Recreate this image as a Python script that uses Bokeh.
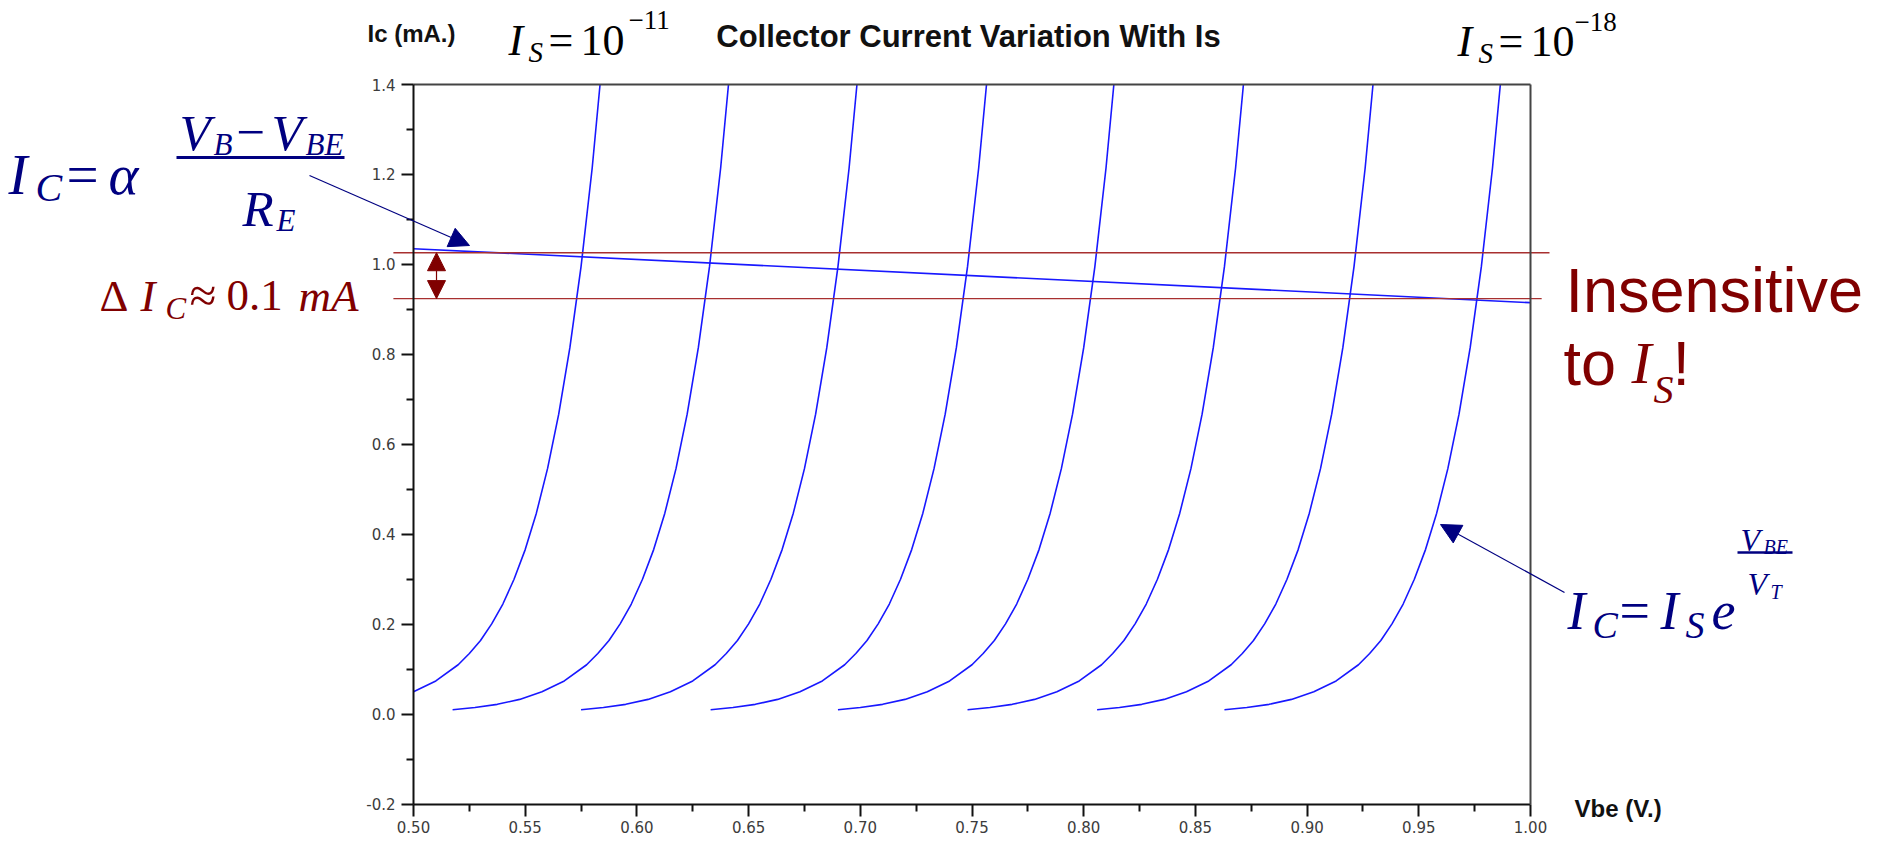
from bokeh.plotting import figure
from bokeh.models import (LinearAxis, FixedTicker, Range1d, Label, Arrow,
                          NormalHead, PrintfTickFormatter)
from bokeh.embed import file_html
from bokeh.resources import INLINE

# ---------------- data ----------------
vbe_ticks = [0.50, 0.55, 0.60, 0.65, 0.70, 0.75, 0.80, 0.85, 0.90, 0.95, 1.00]
vbe_minor = [0.525, 0.575, 0.625, 0.675, 0.725, 0.775, 0.825, 0.875, 0.925, 0.975]
ic_ticks = [-0.2, 0.0, 0.2, 0.4, 0.6, 0.8, 1.0, 1.2, 1.4]
ic_minor = [-0.1, 0.1, 0.3, 0.5, 0.7, 0.9, 1.1, 1.3]

# collector current along each exponential curve (mA)
ic_rise = [0.010, 0.015, 0.022, 0.033, 0.050, 0.074, 0.110, 0.135, 0.164, 0.201,
           0.245, 0.300, 0.366, 0.447, 0.546, 0.667, 0.815, 0.995, 1.215, 1.400]
ic_rise_is11 = [0.050, 0.074, 0.110, 0.135, 0.164, 0.201, 0.245, 0.300, 0.366, 0.447,
                0.546, 0.667, 0.815, 0.995, 1.215, 1.400]

# Vbe of each curve (V), Is = 1e-11 ... 1e-18
vbe_is11 = [0.500, 0.510, 0.520, 0.525, 0.530, 0.535, 0.540, 0.545, 0.550, 0.555,
            0.560, 0.565, 0.570, 0.575, 0.580, 0.5835]
vbe_is12 = [0.5175, 0.5275, 0.5375, 0.5475, 0.5575, 0.5675, 0.5775, 0.5825, 0.5875, 0.5925,
            0.5975, 0.6025, 0.6075, 0.6125, 0.6175, 0.6225, 0.6275, 0.6325, 0.6375, 0.641]
vbe_is13 = [0.575, 0.585, 0.595, 0.605, 0.615, 0.625, 0.635, 0.640, 0.645, 0.650,
            0.655, 0.660, 0.665, 0.670, 0.675, 0.680, 0.685, 0.690, 0.695, 0.6985]
vbe_is14 = [0.633, 0.643, 0.653, 0.663, 0.673, 0.683, 0.693, 0.698, 0.703, 0.708,
            0.713, 0.718, 0.723, 0.728, 0.733, 0.738, 0.743, 0.748, 0.753, 0.7565]
vbe_is15 = [0.690, 0.700, 0.710, 0.720, 0.730, 0.740, 0.750, 0.755, 0.760, 0.765,
            0.770, 0.775, 0.780, 0.785, 0.790, 0.795, 0.800, 0.805, 0.810, 0.8135]
vbe_is16 = [0.748, 0.758, 0.768, 0.778, 0.788, 0.798, 0.808, 0.813, 0.818, 0.823,
            0.828, 0.833, 0.838, 0.843, 0.848, 0.853, 0.858, 0.863, 0.868, 0.8715]
vbe_is17 = [0.806, 0.816, 0.826, 0.836, 0.846, 0.856, 0.866, 0.871, 0.876, 0.881,
            0.886, 0.891, 0.896, 0.901, 0.906, 0.911, 0.916, 0.921, 0.926, 0.9295]
vbe_is18 = [0.863, 0.873, 0.883, 0.893, 0.903, 0.913, 0.923, 0.928, 0.933, 0.938,
            0.943, 0.948, 0.953, 0.958, 0.963, 0.968, 0.973, 0.978, 0.983, 0.9865]

# emitter-degenerated (load) line
load_vbe = [0.50, 1.00]
load_ic = [1.035, 0.915]

# delta-Ic marker levels
delta_levels = [1.026, 0.924]
delta_vbe_left = [0.491, 0.491]
delta_vbe_right = [1.0085, 1.005]
delta_arrow_vbe = 0.5103

# ---------------- layout (page pixels -> data) ----------------
W, H = 1876, 839
PX0, SX = 421.0, 2234.0     # page x of Vbe = 0.5, px per volt
PY0, SY = 92.0, 449.81      # page y of Ic = 1.4, px per mA


def X(px):
    return 0.5 + (px - PX0) / SX


def Y(py):
    return 1.4 - (py - PY0) / SY


p = figure(width=W, height=H, output_backend="svg", toolbar_location=None,
           x_axis_type=None, y_axis_type=None, title=None,
           x_range=Range1d(X(8), X(8 + W)), y_range=Range1d(Y(8 + H), Y(8)),
           min_border=0, outline_line_color=None)
p.background_fill_color = "white"
p.border_fill_color = "white"

AX = "#111111"
TL = "#3c3c3c"

yax = LinearAxis(fixed_location=0.5, bounds=(-0.2, 1.4),
                 ticker=FixedTicker(ticks=ic_ticks, minor_ticks=ic_minor),
                 formatter=PrintfTickFormatter(format="%.1f"))
xax = LinearAxis(fixed_location=-0.2, bounds=(0.5, 1.0),
                 ticker=FixedTicker(ticks=vbe_ticks, minor_ticks=vbe_minor),
                 formatter=PrintfTickFormatter(format="%.2f"))
for ax in (yax, xax):
    ax.axis_line_color = AX
    ax.axis_line_width = 2
    ax.major_tick_line_color = AX
    ax.minor_tick_line_color = AX
    ax.major_tick_line_width = 2
    ax.minor_tick_line_width = 2
    ax.major_tick_in = 0
    ax.major_tick_out = 12
    ax.minor_tick_in = 0
    ax.minor_tick_out = 7
    ax.major_label_text_font = "DejaVu Sans"
    ax.major_label_text_font_size = "15px"
    ax.major_label_text_color = TL
yax.major_label_standoff = 6
xax.major_label_standoff = 5
p.add_layout(yax, "left")
p.add_layout(xax, "below")

top = LinearAxis(fixed_location=1.4, bounds=(0.5, 1.0), ticker=FixedTicker(ticks=[]),
                 major_label_text_font_size="0px")
right = LinearAxis(fixed_location=1.0, bounds=(-0.2, 1.4), ticker=FixedTicker(ticks=[]),
                   major_label_text_font_size="0px")
for ax in (top, right):
    ax.axis_line_color = "#444444"
    ax.axis_line_width = 2
    ax.major_tick_line_color = None
    ax.minor_tick_line_color = None
p.add_layout(top, "above")
p.add_layout(right, "right")

BLUE = "#1818ff"
curves = [(vbe_is11, ic_rise_is11), (vbe_is12, ic_rise), (vbe_is13, ic_rise),
          (vbe_is14, ic_rise), (vbe_is15, ic_rise), (vbe_is16, ic_rise),
          (vbe_is17, ic_rise), (vbe_is18, ic_rise)]
for xs, ys in curves:
    p.line(xs, ys, line_color=BLUE, line_width=1.6)

p.line(load_vbe, load_ic, line_color=BLUE, line_width=1.6)

RED_LINE = "#a83030"
p.segment(x0=delta_vbe_left, y0=delta_levels, x1=delta_vbe_right, y1=delta_levels,
          line_color=RED_LINE, line_width=1.4)

DRED = "#800000"
NAVY = "#000080"

p.add_layout(Arrow(x_start=delta_arrow_vbe, y_start=delta_levels[1],
                   x_end=delta_arrow_vbe, y_end=delta_levels[0],
                   start=NormalHead(size=18, fill_color=DRED, line_color=DRED),
                   end=NormalHead(size=18, fill_color=DRED, line_color=DRED),
                   line_color=DRED, line_width=1.2))

# pointer arrows
p.add_layout(Arrow(x_start=X(317), y_start=Y(183), x_end=X(477), y_end=Y(253),
                   end=NormalHead(size=20, fill_color=NAVY, line_color=NAVY),
                   line_color=NAVY, line_width=1.2))
p.add_layout(Arrow(x_start=X(1572), y_start=Y(600), x_end=X(1448), y_end=Y(532),
                   end=NormalHead(size=20, fill_color=NAVY, line_color=NAVY),
                   line_color=NAVY, line_width=1.2))


def lab(text, px, py, size, color="black", font="Liberation Serif", style="italic",
        align="left", baseline="alphabetic"):
    p.add_layout(Label(x=X(px), y=Y(py), text=text, text_font=font,
                       text_font_size=f"{size}px", text_font_style=style,
                       text_color=color, text_align=align, text_baseline=baseline))


def bar(px0, px1, py, color, w=3.0):
    p.add_layout(Arrow(x_start=X(px0), y_start=Y(py), x_end=X(px1), y_end=Y(py),
                       start=None, end=None, line_color=color, line_width=w))


# header / axis texts
lab("Ic (mA.)", 375, 41, 24, "#111111", "Liberation Sans", "bold")
lab("Collector Current Variation With Is", 976, 44, 31, "#111111", "Liberation Sans",
    "bold", "center")
lab("Vbe (V.)", 1582, 816, 24, "#111111", "Liberation Sans", "bold")

# I_S = 10^-11
lab("I", 516, 48, 44)
lab("S", 536, 59, 29)
lab("=", 556, 48, 44, style="normal")
lab("10", 588, 48, 44, style="normal")
lab("\u221211", 636, 27, 27, style="normal")
# I_S = 10^-18
lab("I", 1465, 49, 44)
lab("S", 1486, 60, 29)
lab("=", 1506, 49, 44, style="normal")
lab("10", 1538, 49, 44, style="normal")
lab("\u221218", 1582, 29, 27, style="normal")

# I_C = alpha (V_B - V_BE) / R_E
lab("I", 16, 182, 57, NAVY)
lab("C", 43, 195, 40, NAVY)
lab("=", 74, 182, 57, NAVY, style="normal")
lab("\u03b1", 116, 182, 57, NAVY)
bar(184, 352, 165, NAVY)
lab("V", 187, 140, 51, NAVY)
lab("B", 221, 152, 31, NAVY)
lab("\u2212", 244, 140, 51, NAVY, style="normal")
lab("V", 279, 140, 51, NAVY)
lab("BE", 313, 152, 31, NAVY)
lab("R", 250, 216, 51, NAVY)
lab("E", 284, 228, 31, NAVY)

# Delta I_C ~ 0.1 mA
lab("\u0394", 107, 303, 45, DRED, style="normal")
lab("I", 148, 303, 45, DRED)
lab("C", 173, 316, 31, DRED)
lab("\u2248", 197, 303, 49, DRED, style="normal")
lab("0.1", 234, 303, 45, DRED, style="normal")
lab("mA", 306, 303, 45, DRED)

# Insensitive to I_S!
lab("Insensitive", 1573, 297, 63, DRED, "Liberation Sans", "normal")
lab("to", 1571, 370, 63, DRED, "Liberation Sans", "normal")
lab("I", 1639, 370, 60, DRED)
lab("S", 1661, 397, 40, DRED)
lab("!", 1680, 370, 63, DRED, "Liberation Sans", "normal")

# I_C = I_S e^(V_BE / V_T)
lab("I", 1575, 618, 54, NAVY)
lab("C", 1600, 632, 38, NAVY)
lab("=", 1627, 618, 54, NAVY, style="normal")
lab("I", 1668, 618, 54, NAVY)
lab("S", 1693, 632, 38, NAVY)
lab("e", 1719, 618, 54, NAVY)
bar(1745, 1800, 560, NAVY, 2.5)
lab("V", 1748, 547, 32, NAVY)
lab("BE", 1771, 554, 20, NAVY)
lab("V", 1755, 591, 32, NAVY)
lab("T", 1778, 599, 20, NAVY)

open("out.html", "w").write(file_html(p, INLINE))
